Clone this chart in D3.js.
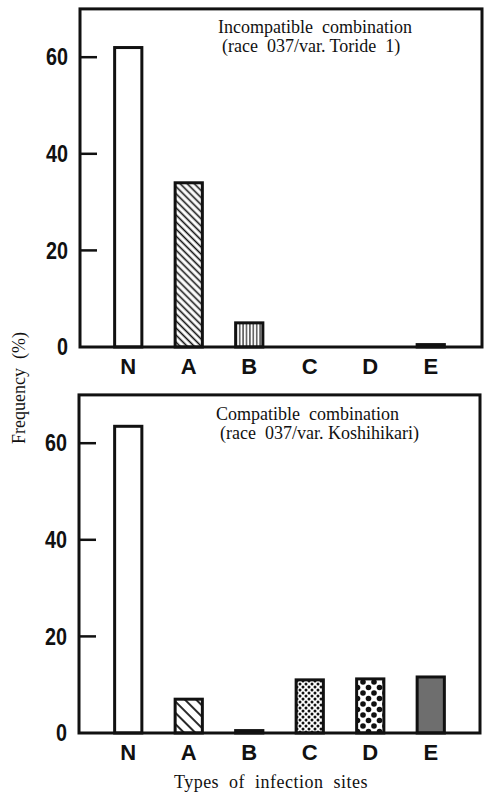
<!DOCTYPE html>
<html>
<head>
<meta charset="utf-8">
<script src="https://cdn.jsdelivr.net/npm/d3@7"></script>
<style>
  body { margin: 0; background: #fff; }
  svg { display: block; }
</style>
</head>
<body>
<div id="chart"></div>
<script>
// categories and values (%)
var categories = ["N", "A", "B", "C", "D", "E"];
var incompatible = [62, 34, 5, 0, 0, 0.5];
var compatible = [63.5, 7, 0.5, 11, 11.2, 11.6];
var yTicks = [0, 20, 40, 60];

var titleTop = ["Incompatible  combination", "(race  037/var. Toride  1)"];
var titleBottom = ["Compatible  combination", "(race  037/var. Koshihikari)"];

var W = 486, H = 794;

var svg = d3.select("#chart").append("svg")
  .attr("width", W)
  .attr("height", H);

// patterns for the bars
var defs = svg.append("defs");

function linePattern(id, size, width, angle) {
  var p = defs.append("pattern")
    .attr("id", id)
    .attr("patternUnits", "userSpaceOnUse")
    .attr("width", size)
    .attr("height", size)
    .attr("patternTransform", "rotate(" + angle + ")");
  p.append("rect").attr("width", size).attr("height", size).attr("fill", "#fff");
  p.append("line")
    .attr("x1", 0).attr("x2", size)
    .attr("y1", size / 2).attr("y2", size / 2)
    .attr("stroke", "#111")
    .attr("stroke-width", width);
}

function dotPattern(id, size, r) {
  var p = defs.append("pattern")
    .attr("id", id)
    .attr("patternUnits", "userSpaceOnUse")
    .attr("width", size)
    .attr("height", size);
  p.append("rect").attr("width", size).attr("height", size).attr("fill", "#fff");
  [[0, 0], [size, 0], [0, size], [size, size], [size / 2, size / 2]].forEach(function(c) {
    p.append("circle").attr("cx", c[0]).attr("cy", c[1]).attr("r", r).attr("fill", "#111");
  });
}

linePattern("hatchDense", 5, 1.6, 45);
linePattern("hatchWide", 8, 1.8, 45);
linePattern("vlines", 3.4, 1.1, 90);
dotPattern("dotsSmall", 6, 1.5);
dotPattern("dotsBig", 11, 2.8);

var fillTop = {N: "#fff", A: "url(#hatchDense)", B: "url(#vlines)", C: "url(#dotsSmall)", D: "url(#dotsBig)", E: "#6e6e6e"};
var fillBottom = {N: "#fff", A: "url(#hatchWide)", B: "url(#vlines)", C: "url(#dotsSmall)", D: "url(#dotsBig)", E: "#6e6e6e"};

var x = d3.scaleBand()
  .domain(categories)
  .range([98, 461])
  .paddingInner(0.55)
  .paddingOuter(0.275);

function drawPanel(values, fills, title, box) {
  var y = d3.scaleLinear().domain([0, 70]).range([box.bottom, box.bottom - 70 * 4.83]);
  var g = svg.append("g");

  // bars
  g.selectAll("rect.bar")
    .data(categories)
    .enter()
    .append("rect")
    .attr("class", "bar")
    .attr("x", function(d) { return x(d); })
    .attr("width", x.bandwidth())
    .attr("y", function(d, i) { return y(values[i]); })
    .attr("height", function(d, i) { return y(0) - y(values[i]); })
    .attr("fill", function(d) { return fills[d]; })
    .attr("stroke", function(d, i) { return values[i] > 0 ? "#111" : "none"; })
    .attr("stroke-width", 3);

  // frame
  g.append("rect")
    .attr("x", box.left)
    .attr("y", y(70))
    .attr("width", box.right - box.left)
    .attr("height", y(0) - y(70))
    .attr("fill", "none")
    .attr("stroke", "#111")
    .attr("stroke-width", 3);

  // y ticks inside frame
  g.selectAll("line.tick")
    .data(yTicks.filter(function(t) { return t > 0; }))
    .enter()
    .append("line")
    .attr("x1", box.left)
    .attr("x2", box.left + 17)
    .attr("y1", function(d) { return y(d); })
    .attr("y2", function(d) { return y(d); })
    .attr("stroke", "#111")
    .attr("stroke-width", 2.5);

  // condensed bold numerals
  g.selectAll("text.ylab")
    .data(yTicks)
    .enter()
    .append("text")
    .attr("x", box.left - 12)
    .attr("y", function(d) { return y(d); })
    .attr("dy", "0.36em")
    .attr("text-anchor", "end")
    .attr("textLength", function(d) { return String(d).length * 11; })
    .attr("lengthAdjust", "spacingAndGlyphs")
    .style("font-family", "'Liberation Sans', Arial, sans-serif")
    .style("font-weight", "bold")
    .style("font-size", "23px")
    .attr("fill", "#111")
    .text(function(d) { return d; });

  g.selectAll("text.xlab")
    .data(categories)
    .enter()
    .append("text")
    .attr("x", function(d) { return x(d) + x.bandwidth() / 2; })
    .attr("y", y(0) + 27)
    .attr("text-anchor", "middle")
    .style("font-family", "'Liberation Sans', Arial, sans-serif")
    .style("font-weight", "bold")
    .style("font-size", "22px")
    .attr("fill", "#111")
    .text(function(d) { return d; });

  g.selectAll("text.note")
    .data(title)
    .enter()
    .append("text")
    .attr("x", function(d, i) { return box.noteX + i * 4; })
    .attr("y", function(d, i) { return box.noteY + i * 19; })
    .style("font-family", "'Liberation Serif', 'DejaVu Serif', serif")
    .style("font-size", "18px")
    .style("white-space", "pre")
    .attr("fill", "#111")
    .text(function(d) { return d; });
}

drawPanel(incompatible, fillTop, titleTop, {left: 80, right: 482, bottom: 347, noteX: 218, noteY: 33});
drawPanel(compatible, fillBottom, titleBottom, {left: 79, right: 480, bottom: 733, noteX: 216, noteY: 420});

// axis titles
svg.append("text")
  .attr("transform", "translate(25,388) rotate(-90)")
  .attr("text-anchor", "middle")
  .style("font-family", "'Liberation Serif', 'DejaVu Serif', serif")
  .style("font-size", "18px")
  .style("white-space", "pre")
  .attr("fill", "#111")
  .text("Frequency  (%)");

svg.append("text")
  .attr("x", 271)
  .attr("y", 788)
  .attr("text-anchor", "middle")
  .style("font-family", "'Liberation Serif', 'DejaVu Serif', serif")
  .style("font-size", "18px")
  .style("white-space", "pre")
  .style("letter-spacing", "0.5px")
  .attr("fill", "#111")
  .text("Types  of  infection  sites");
</script>
</body>
</html>
